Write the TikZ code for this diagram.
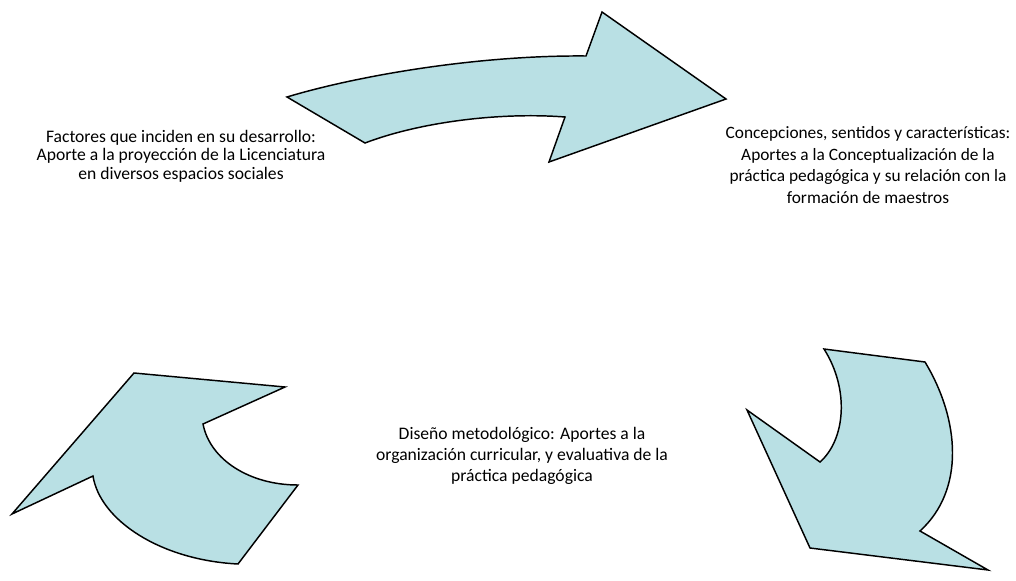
\documentclass[tikz,border=0pt]{standalone}
\usepackage{fontspec}
\setmainfont{Carlito}
\usepackage{tikz}
\usetikzlibrary{positioning}
\definecolor{flechaazul}{RGB}{185,224,228}

\begin{document}
\begin{tikzpicture}[x=0.75pt, y=-0.75pt,
  flecha/.style={draw=black, line width=1.1pt, fill=flechaazul, line join=miter},
  texto/.style={align=center, inner sep=0pt}]
\useasboundingbox (0,0) rectangle (1016,581);
% Top arrow
\draw[flecha] (287,97) .. controls (360,75) and (480,55) .. (586,56)
  -- (602,12) -- (726,99) -- (549,162) -- (565,117)
  .. controls (500,112) and (420,122) .. (365,143) -- cycle;
% Bottom right arrow
\draw[flecha] (824,349) -- (925,362)
  .. controls (960,420) and (965,490) .. (920,531)
  -- (988,570) -- (810,548) -- (747,410) -- (820,462)
  .. controls (845,440) and (850,390) .. cycle;
% Bottom left arrow
\draw[flecha] (134,373) -- (285,387) -- (203,424)
  .. controls (210,460) and (250,485) .. (298,485)
  -- (238,564) .. controls (160,560) and (100,520) .. (93,476)
  -- (12,514) -- cycle;
% Texts
\node[texto, font=\fontsize{13.2}{14}\selectfont] (factores) at (181,156) {Factores que inciden en su desarrollo:\\ Aporte a la proyección de la Licenciatura\\ en diversos espacios sociales};
\node[texto, font=\fontsize{13}{16.3}\selectfont] (concepciones) at (868,165) {Concepciones, sentidos y características:\\ Aportes a la Conceptualización de la\\ práctica pedagógica y su relación con la\\ formación de maestros};
\node[texto, font=\fontsize{13.2}{15.8}\selectfont] (diseno) at (522,456) {Diseño metodológico: Aportes a la\\ organización curricular, y evaluativa de la\\ práctica pedagógica};
\end{tikzpicture}
\end{document}
